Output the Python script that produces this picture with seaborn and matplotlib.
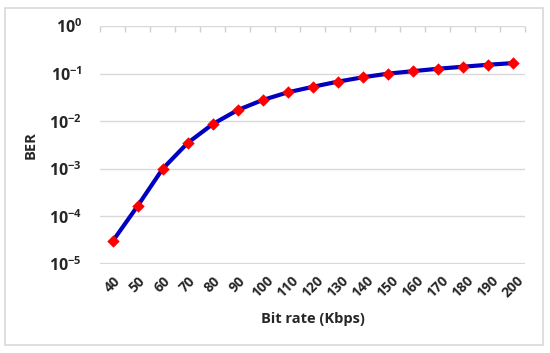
import numpy as np
import matplotlib
matplotlib.use("Agg")
import matplotlib.pyplot as plt
import seaborn as sns
from matplotlib.patches import Rectangle
from matplotlib.ticker import FixedLocator, FixedFormatter

bit_rates = ["40", "50", "60", "70", "80", "90", "100", "110", "120", "130",
             "140", "150", "160", "170", "180", "190", "200"]
ber = [3.0e-5, 1.66e-4, 1.0e-3, 3.5e-3, 8.7e-3, 1.72e-2, 2.8e-2, 4.05e-2, 5.3e-2,
       6.8e-2, 8.4e-2, 0.1, 0.113, 0.127, 0.14, 0.154, 0.167]
y_exponents = [0, -1, -2, -3, -4, -5]

sns.set_theme(style="white")
plt.rcParams["font.family"] = ["Open Sans", "DejaVu Sans"]
plt.rcParams["mathtext.fontset"] = "custom"
plt.rcParams["mathtext.rm"] = "Open Sans"
plt.rcParams["mathtext.bf"] = "Open Sans:bold"

fig = plt.figure(figsize=(5.5, 3.53), dpi=100)
ax = fig.add_axes([0.182, 0.252, 0.773, 0.674])

# chart area border
fig.patches.append(Rectangle((0.009, 0.023), 0.978, 0.955, transform=fig.transFigure,
                             fill=False, edgecolor="#d9d9d9", linewidth=1.2))

sns.pointplot(x=bit_rates, y=ber, ax=ax, errorbar=None, color="#0000c0",
              marker="D", markersize=4, markerfacecolor="red", markeredgecolor="red",
              linewidth=3)

ax.set_yscale("log")
ax.set_ylim(1e-5, 1)
ax.set_xlim(-0.5, len(bit_rates) - 0.5)

ticks = [10.0 ** e for e in y_exponents]
ax.yaxis.set_major_locator(FixedLocator(ticks))
ax.yaxis.set_major_formatter(FixedFormatter([rf"$\mathbf{{10^{{{e}}}}}$" for e in y_exponents]))
ax.yaxis.set_minor_locator(FixedLocator([]))
ax.grid(axis="y", color="#d9d9d9", linewidth=1)
ax.grid(axis="x", visible=False)
ax.axhline(1e-5, color="#d9d9d9", linewidth=1.6, zorder=1)

for s in ax.spines.values():
    s.set_visible(False)

# category boundary ticks at the top line
ax.set_xticks(np.arange(-0.5, len(bit_rates)), minor=True)
ax.tick_params(axis="x", which="minor", top=True, bottom=False, direction="in",
               length=4, color="#d0d0d0", width=1)
ax.tick_params(axis="x", which="major", length=0, pad=7, labelsize=10)
ax.tick_params(axis="y", length=0, pad=13, labelsize=11.5)
for lbl in ax.get_xticklabels():
    lbl.set_rotation(45)
    lbl.set_fontweight("bold")
    lbl.set_ha("center")

ax.set_xlabel("Bit rate (Kbps)", fontsize=10.5, fontweight="bold", labelpad=8)
ax.set_ylabel("BER", fontsize=10.5, fontweight="bold", labelpad=8)

fig.savefig("out.png", dpi=100)
